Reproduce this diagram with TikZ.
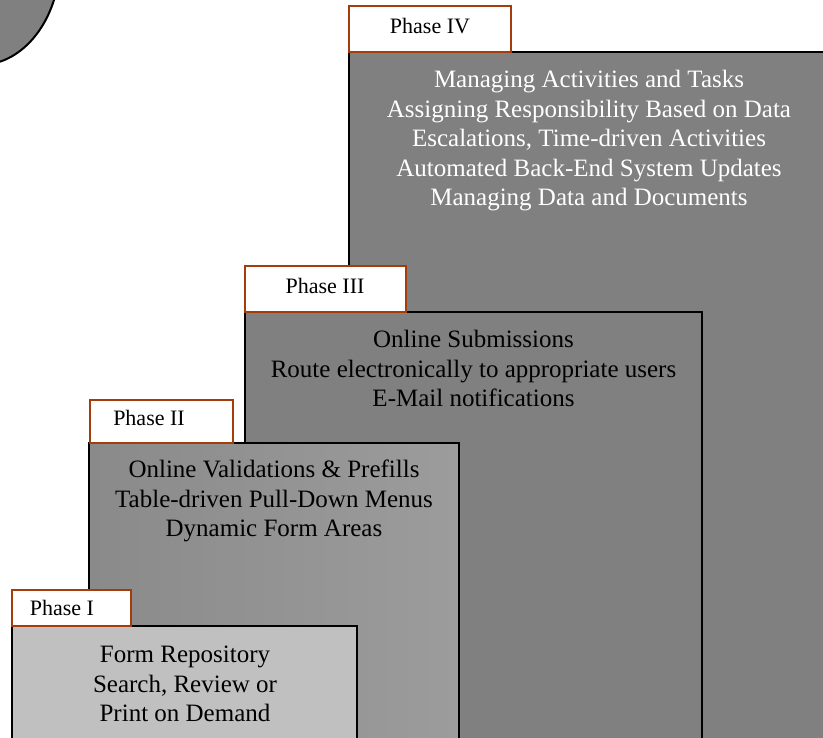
\documentclass[tikz,border=0pt]{standalone}
\usepackage{fontspec}
\setmainfont{Liberation Serif}
\definecolor{tabbrown}{RGB}{165,60,12}
\definecolor{darkgray}{RGB}{128,128,128}
\definecolor{lightbox}{RGB}{192,192,192}
\tikzset{
  phasebox/.style={draw=black, line width=2pt},
  phasetab/.style={draw=tabbrown, fill=white, line width=1.6pt},
  tablabel/.style={font=\fontsize{22}{24}\selectfont, text=black},
  boxtext/.style={font=\fontsize{25}{29.5}\selectfont, align=center, inner sep=0pt},
}
\begin{document}
\begin{tikzpicture}[x=1pt,y=-1pt]
\useasboundingbox (0,0) rectangle (823,738);
\clip (0,0) rectangle (823,738);
% ellipse
\draw[fill=darkgray, line width=2pt] (-20,-40) ellipse [x radius=80, y radius=105];
% Phase IV
\draw[phasebox, fill=darkgray] (349,52) rectangle (840,760);
\node[phasetab, minimum width=162pt, minimum height=46pt, inner sep=0pt] (tab4) at (430,29) {};
\node[tablabel] (t4) at (430,26) {Phase IV};
\node[boxtext, text=white] (b4) at (589,141) {Managing Activities and Tasks\\Assigning Responsibility Based on Data\\Escalations, Time-driven Activities\\Automated Back-End System Updates\\Managing Data and Documents};
% Phase III
\draw[phasebox, fill=darkgray] (245,312) rectangle (702,760);
\node[phasetab, minimum width=161pt, minimum height=46pt, inner sep=0pt] (tab3) at (325.5,289) {};
\node[tablabel] (t3) at (325,286) {Phase III};
\node[boxtext, text=black] (b3) at (473.5,368.5) {Online Submissions\\Route electronically to appropriate users\\E-Mail notifications};
% Phase II
\shade[left color={rgb,255:red,138;green,138;blue,138}, right color={rgb,255:red,156;green,156;blue,156}] (89,443) rectangle (459,760);
\draw[phasebox] (89,443) rectangle (459,760);
\node[phasetab, minimum width=143pt, minimum height=43pt, inner sep=0pt] (tab2) at (161.5,421.5) {};
\node[tablabel] (t2) at (149,418) {Phase II};
\node[boxtext, text=black] (b2) at (274,501) {Online Validations \& Prefills\\Table-driven Pull-Down Menus\\Dynamic Form Areas};
% Phase I
\draw[phasebox, fill=lightbox] (12,626) rectangle (357,760);
\node[phasetab, minimum width=119pt, minimum height=36pt, inner sep=0pt] (tab1) at (71.5,608) {};
\node[tablabel] (t1) at (62,608) {Phase I};
\node[boxtext, text=black] (b1) at (185,684) {Form Repository\\Search, Review or\\Print on Demand};
\end{tikzpicture}
\end{document}
